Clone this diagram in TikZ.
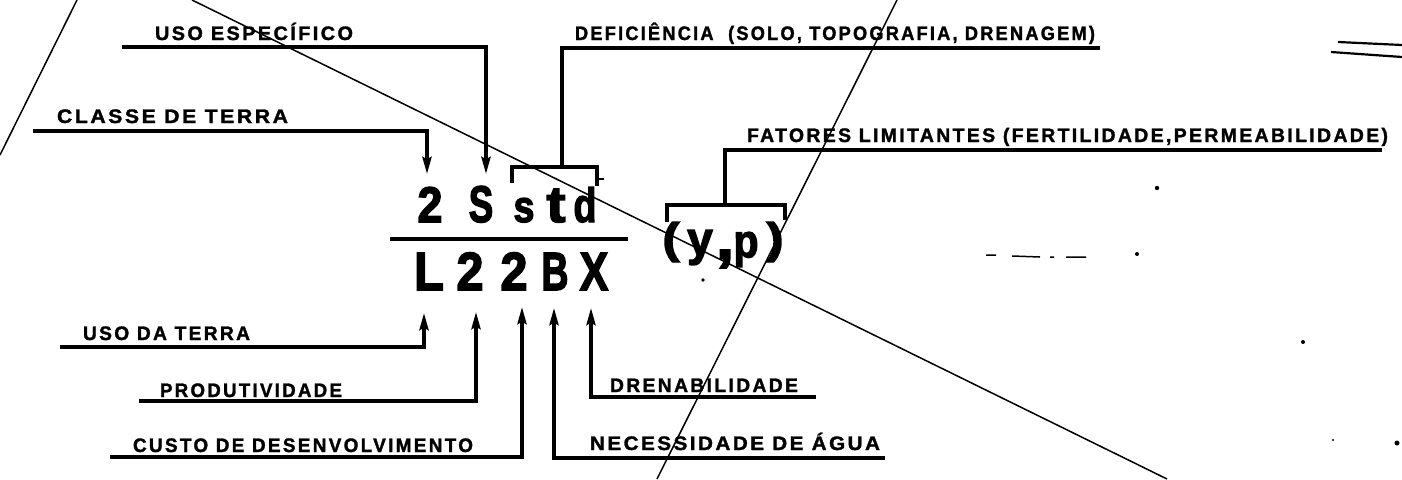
\documentclass[tikz,border=0pt]{standalone}
\usepackage{fontspec}
\setmainfont{Liberation Sans}
\newfontfamily\lblfont[LetterSpace=12, FakeBold=1.5]{Liberation Sans Bold}
\newfontfamily\bigfont[FakeBold=3]{Liberation Sans Bold}
\usetikzlibrary{arrows.meta}
\newcommand\wbox[2]{\resizebox{#1pt}{\height}{#2}}
\newcommand\gl[3]{\resizebox{#1pt}{#2pt}{#3}}
\newcommand\glt[3]{\resizebox*{#1pt}{#2pt}{#3}}
\tikzset{
  lbl/.style={inner sep=0pt, outer sep=0pt, anchor=base west, font=\lblfont\fontsize{19.5}{20}\selectfont},
  big/.style={inner sep=0pt, outer sep=0pt, anchor=base, font=\bigfont\fontsize{49}{50}\selectfont},
  bigt/.style={inner sep=0pt, outer sep=0pt, anchor=south, font=\bigfont\fontsize{49}{50}\selectfont},
  lead/.style={line width=3.2pt, line cap=butt, line join=miter},
  arr/.style={lead, -{Stealth[length=17pt,width=9pt,inset=2pt]}},
  scan/.style={line width=1.5pt},
  speck/.style={fill=black, draw=none},
}
\begin{document}
\begin{tikzpicture}[x=1pt,y=-1pt]
\useasboundingbox (0,0) rectangle (1402,479);

% scan lines crossing the sheet
\draw[scan] (192,0) -- (1167,479);
\draw[scan] (897,0) -- (657,479);
\draw[scan] (77,0) -- (0,155);
\draw[line width=2.2pt] (1338,42) -- (1402,45);
\draw[line width=2.2pt] (1331,52) -- (1402,57);
\draw[line width=1.5pt] (986,255) -- (996,255) (1012,256) -- (1040,257) (1050,257) -- (1054,257) (1066,257) -- (1086,257);
\fill[speck] (1137,254) circle (2pt);
\fill[speck] (1303,342) circle (2pt);
\fill[speck] (1397,443) circle (2.5pt);
\fill[speck] (1333,440) circle (1.2pt);
\fill[speck] (1157,188) circle (2.2pt);
\fill[speck] (703,280) circle (1.8pt);

% numerator
\node[big] (t2) at (430,222) {\gl{25}{35}{2}};
\node[big] (tS) at (481,222) {\gl{24.5}{36}{S}};
\node[big] (ts) at (524,222) {\gl{21}{24}{s}};
\node[big] (tt) at (556,222) {\gl{19}{33}{t}};
\node[big] (td) at (585,222) {\gl{23}{35}{d}};

% fraction bar
\coordinate (barL) at (390,239);
\coordinate (barR) at (628,239);
\draw[line width=3.2pt] (barL) -- (barR);

% denominator
\node[big] (bL) at (429,290) {\gl{30}{37}{L}};
\node[big] (b2a) at (470,290) {\gl{27}{37.5}{2}};
\node[big] (b2b) at (514,290) {\gl{27}{37.5}{2}};
\node[big] (bB) at (555,290) {\gl{27}{37}{B}};
\node[big] (bX) at (594,290) {\gl{28.5}{37}{X}};

% (y,p)
\node[bigt] (pl) at (671,262) {\glt{17}{40}{(}};
\node[bigt] (py) at (700,265) {\glt{25.5}{35}{y}};
\node[bigt] (pc) at (725,268) {\glt{18}{18}{,}};
\node[bigt] (pp) at (746,267) {\glt{25}{35}{p}};
\node[bigt] (pr) at (775,262) {\glt{17}{40}{)}};

% labels
\node[lbl] (uesp) at (155,40) {\wbox{198}{USO ESPECÍFICO}};
\node[lbl] (ctr) at (57,123) {\wbox{231}{CLASSE DE TERRA}};
\node[lbl] (def) at (575,40) {\wbox{520}{DEFICIÊNCIA~~(SOLO, TOPOGRAFIA, DRENAGEM)}};
\node[lbl] (fat) at (747,142) {\wbox{641}{FATORES LIMITANTES (FERTILIDADE,PERMEABILIDADE)}};
\node[lbl] (udt) at (83,340) {\wbox{167}{USO DA TERRA}};
\node[lbl] (prod) at (160,397) {\wbox{182}{PRODUTIVIDADE}};
\node[lbl] (custo) at (133,452) {\wbox{340}{CUSTO DE DESENVOLVIMENTO}};
\node[lbl] (dren) at (610,392) {\wbox{188}{DRENABILIDADE}};
\node[lbl] (nec) at (590,450) {\wbox{290}{NECESSIDADE DE ÁGUA}};

% leader end points
\coordinate (uespA) at (122,47);   \coordinate (uespT) at (486,174);
\coordinate (ctrA) at (33,131);    \coordinate (ctrT) at (427,174);
\coordinate (defA) at (1100,48);   \coordinate (defT) at (562,167);
\coordinate (fatA) at (1382,150);  \coordinate (fatT) at (725,205);
\coordinate (udtA) at (60,347);    \coordinate (udtT) at (424,313);
\coordinate (prodA) at (139,401);  \coordinate (prodT) at (476,312);
\coordinate (custoA) at (110,457); \coordinate (custoT) at (522,307);
\coordinate (necA) at (885,458);   \coordinate (necT) at (554,308);
\coordinate (drenA) at (816,397);  \coordinate (drenT) at (591,308);

% brackets
\coordinate (brA1) at (512,183); \coordinate (brA2) at (597,167); \coordinate (brA3) at (597,186);
\coordinate (brB1) at (667,222); \coordinate (brB2) at (785,205); \coordinate (brB3) at (785,220);
\draw[lead] (brA1) |- (brA2) -- (brA3);
\draw[line width=2.2pt] (597,179) -- (604,179);
\draw[lead] (brB1) |- (brB2) -- (brB3);

% leaders
\draw[arr] (uespA) -| (uespT);
\draw[arr] (ctrA) -| (ctrT);
\draw[lead] (defA) -| (defT);
\draw[lead] (fatA) -| (fatT);
\draw[arr] (udtA) -| (udtT);
\draw[arr] (prodA) -| (prodT);
\draw[arr] (custoA) -| (custoT);
\draw[arr] (necA) -| (necT);
\draw[arr] (drenA) -| (drenT);
\end{tikzpicture}
\end{document}
